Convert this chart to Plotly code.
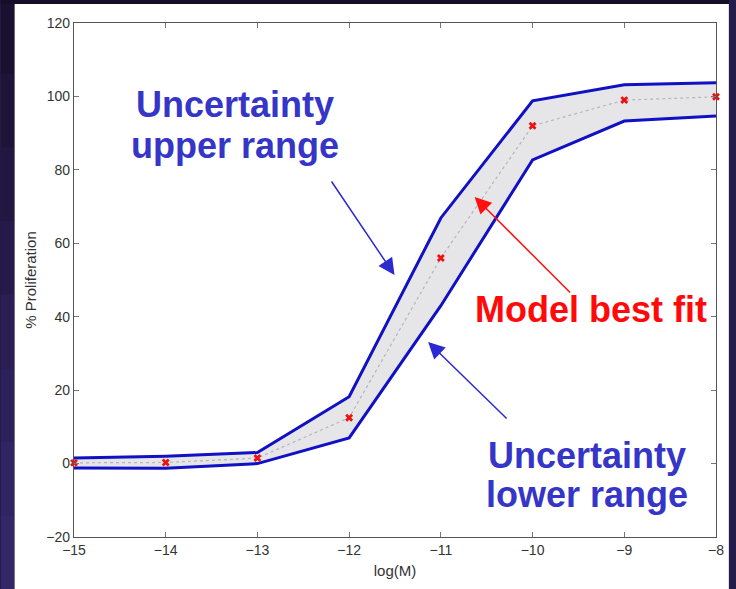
import plotly.graph_objects as go

# ---- data ----
log_m = [-15, -14, -13, -12, -11, -10, -9, -8]
upper = [1.5, 2.0, 3.0, 18.2, 66.9, 98.8, 103.2, 103.7]
lower = [-1.2, -1.3, 0.0, 7.0, 43.0, 82.7, 93.3, 94.7]
best_fit = [0.2, 0.3, 1.5, 12.5, 56.0, 92.0, 99.0, 99.9]
x_ticks = [-15, -14, -13, -12, -11, -10, -9, -8]
y_ticks = [-20, 0, 20, 40, 60, 80, 100, 120]

W, H = 736, 589
L, R, T, B = 74, 13, 23, 52
PW, PH = W - L - R, H - T - B


def px(x):
    return (x - L) / PW


def py(y):
    return (H - B - y) / PH


BAND = "#1010c4"
TXT_BLUE = "#3535c8"

fig = go.Figure()
fig.add_trace(go.Scatter(x=log_m, y=lower, mode="lines",
                         line=dict(color=BAND, width=3), showlegend=False))
fig.add_trace(go.Scatter(x=log_m, y=upper, mode="lines", fill="tonexty",
                         fillcolor="#e6e6e8",
                         line=dict(color=BAND, width=3), showlegend=False))
fig.add_trace(go.Scatter(x=log_m, y=best_fit, mode="lines+markers",
                         line=dict(color="#b4b4c4", width=1.2, dash="dot"),
                         marker=dict(symbol="x", size=7, color="#ee1111",
                                     line=dict(width=0)),
                         showlegend=False, cliponaxis=False))

shapes = []
# dark purple background gradient on left strip and top strip
strip_cols = ["#1a1130", "#1e1438", "#221741", "#261a4a", "#2a1e53",
              "#2d215b", "#302462", "#332768"]
n = len(strip_cols)
for i, c in enumerate(strip_cols):
    y0 = i * H / n
    y1 = (i + 1) * H / n + 1
    shapes.append(dict(type="rect", xref="paper", yref="paper",
                       x0=px(0), x1=px(14), y0=py(y1), y1=py(y0),
                       fillcolor=c, line=dict(width=0), layer="below"))
shapes.append(dict(type="rect", xref="paper", yref="paper",
                   x0=px(0), x1=px(W), y0=py(4), y1=py(0),
                   fillcolor="#160d2a", line=dict(width=0), layer="below"))
shapes.append(dict(type="rect", xref="paper", yref="paper",
                   x0=px(14), x1=px(W), y0=py(H), y1=py(4),
                   fillcolor="white", line=dict(width=0), layer="below"))

ann = []


def text(s, cx, baseline, color):
    ann.append(dict(text=s, xref="paper", yref="paper", x=px(cx),
                    y=py(baseline - 12.5), xanchor="center", yanchor="middle",
                    showarrow=False,
                    font=dict(family="Liberation Sans, Arial", size=36,
                              color=color, weight="bold")))


text("Uncertainty", 237, 117, TXT_BLUE)
text("upper range", 237, 158, TXT_BLUE)
text("Model best fit", 597, 322, "#ff0a0a")
text("Uncertainty", 593, 468, TXT_BLUE)
text("lower range", 593, 507, TXT_BLUE)


def arrow(hx, hy, tx, ty, color):
    ann.append(dict(text="", xref="paper", yref="paper", x=px(hx), y=py(hy),
                    ax=tx - hx, ay=ty - hy, showarrow=True, arrowhead=2,
                    arrowsize=2.2, arrowwidth=1.5, arrowcolor=color))


arrow(398, 275, 334, 180, "#2a2ad0")
arrow(432, 342, 512, 420, "#2a2ad0")
arrow(479, 197, 576, 294, "#ff1010")

axis_common = dict(showline=True, mirror="ticks", linecolor="#555555",
                   linewidth=1.2, ticks="inside", ticklen=5,
                   tickcolor="#777777", zeroline=False, showgrid=False,
                   tickfont=dict(family="Liberation Sans, Arial", size=14,
                                 color="#333333"))

fig.update_layout(
    width=W, height=H,
    margin=dict(l=L, r=R, t=T, b=B),
    paper_bgcolor="#261a4a",
    plot_bgcolor="white",
    shapes=shapes,
    annotations=ann,
    xaxis=dict(range=[-15, -8], tickvals=x_ticks,
               ticktext=["\u2212" + str(abs(v)) for v in x_ticks],
               title=dict(text="log(M)", standoff=8,
                          font=dict(family="Liberation Sans, Arial", size=15,
                                    color="#333333")),
               **axis_common),
    yaxis=dict(range=[-20, 120], tickvals=y_ticks,
               ticktext=[("\u2212" + str(abs(v))) if v < 0 else str(v) for v in y_ticks],
               title=dict(text="% Proliferation", standoff=6,
                          font=dict(family="Liberation Sans, Arial", size=15,
                                    color="#333333")),
               **axis_common),
)

fig.write_html("out.html")
